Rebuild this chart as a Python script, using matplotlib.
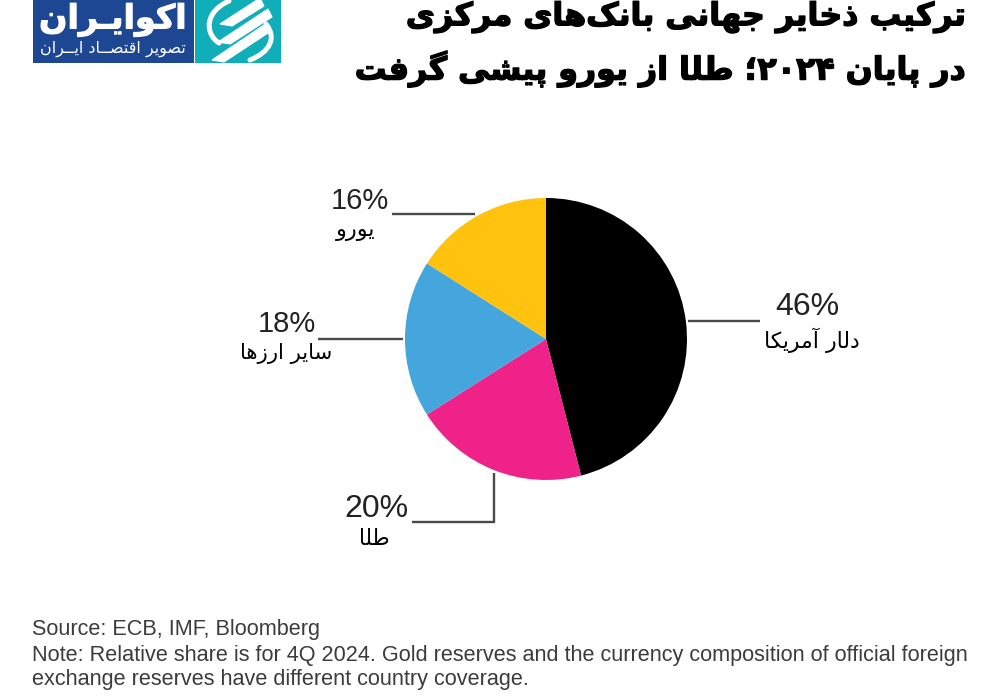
import unicodedata
import re
import numpy as np
import matplotlib
matplotlib.use("Agg")
import matplotlib.pyplot as plt
import matplotlib.patheffects as pe
from matplotlib.patches import Rectangle, Polygon, PathPatch
from matplotlib.path import Path

# ---- data ----
categories = ["دلار آمریکا", "طلا", "سایر ارزها", "یورو"]
shares = [46, 20, 18, 16]
share_labels = ["46%", "20%", "18%", "16%"]
slice_colors = ["#000000", "#EE2288", "#45A5DD", "#FFC20E"]
title_lines = ["ترکیب ذخایر جهانی بانک\u200cهای مرکزی", "در پایان ۲۰۲۴؛ طلا از یورو پیشی گرفت"]
source_lines = ["Source: ECB, IMF, Bloomberg",
                "Note: Relative share is for 4Q 2024. Gold reserves and the currency composition of official foreign",
                "exchange reserves have different country coverage."]
logo_name = "اکوایـران"
logo_tag = "تصویر اقتصــاد ایــران"

# ---- Persian shaping: matplotlib draws glyphs left to right without joining ----
_forms = {}
for cp in list(range(0xFB50, 0xFE00)) + list(range(0xFE70, 0xFEFF)):
    try:
        unicodedata.name(chr(cp))
    except ValueError:
        continue
    d = unicodedata.decomposition(chr(cp)).split()
    if len(d) != 2 or not d[0].startswith("<"):
        continue
    kind = d[0].strip("<>")
    if kind in ("isolated", "final", "initial", "medial"):
        _forms.setdefault(chr(int(d[1], 16)), {}).setdefault(kind, chr(cp))
_forms["ی"] = {"isolated": "\uFBFC", "final": "\uFBFD", "initial": "\uFBFE", "medial": "\uFBFF"}
_forms["ک"] = {"isolated": "\uFB8E", "final": "\uFB8F", "initial": "\uFB90", "medial": "\uFB91"}
_forms["ـ"] = {"isolated": "ـ", "final": "ـ", "initial": "ـ", "medial": "ـ"}


def fa(s):
    out = []
    chars = list(s)

    def joins_next(c):
        f = _forms.get(c, {})
        return "medial" in f or "initial" in f

    def joins_prev(c):
        f = _forms.get(c, {})
        return "final" in f or "medial" in f

    for i, c in enumerate(chars):
        if c not in _forms:
            if c != "\u200c":
                out.append(c)
            continue
        prev = chars[i - 1] if i else ""
        nxt = chars[i + 1] if i + 1 < len(chars) else ""
        p = prev in _forms and joins_next(prev) and joins_prev(c)
        n = nxt in _forms and joins_prev(nxt) and joins_next(c)
        kind = "medial" if p and n else "final" if p else "initial" if n else "isolated"
        out.append(_forms[c].get(kind, c))
    text = "".join(reversed(out))
    # digit runs read left to right
    return re.sub(r"[۰-۹]+", lambda m: m.group(0)[::-1], text)


W, H = 1000, 700
fig = plt.figure(figsize=(W / 100, H / 100), dpi=100, facecolor="white")
bg = fig.add_axes([0, 0, 1, 1])
bg.set_xlim(0, W)
bg.set_ylim(H, 0)
bg.axis("off")

AR = ["DejaVu Sans"]
heavy = [pe.withStroke(linewidth=1.0, foreground="black")]

# title
bg.text(966, 1, fa(title_lines[0]), ha="right", va="top", family=AR, fontweight="bold",
        fontsize=22.8, color="black", path_effects=heavy)
bg.text(966, 69, fa(title_lines[1]), ha="right", va="center", family=AR, fontweight="bold",
        fontsize=22.8, color="black", path_effects=heavy)

# logo
bg.add_patch(Rectangle((33, 0), 161, 63, color="#1E4793", lw=0))
bg.add_patch(Rectangle((195, 0), 86, 63, color="#10AEB9", lw=0))
for (x0, y0), (x1, y1) in [((220, 24), (262, 2)), ((218, 42), (270, 13)), ((212, 60), (266, 29))]:
    bg.add_patch(Polygon([(x0, y0), (x1 - 2, y1 - 4), (x1 + 2, y1 + 4), (x0 + 12, y0 + 2)],
                         closed=True, facecolor="white", edgecolor="white", lw=0.8))
arc_left = Path([(229, 1), (204, 12), (205, 34), (219, 43)], [Path.MOVETO, Path.CURVE4, Path.CURVE4, Path.CURVE4])
arc_right = Path([(266, 24), (277, 38), (270, 52), (250, 60)], [Path.MOVETO, Path.CURVE4, Path.CURVE4, Path.CURVE4])
for arc in (arc_left, arc_right):
    bg.add_patch(PathPatch(arc, facecolor="none", edgecolor="white", lw=3.6, capstyle="round"))
bg.text(113, 20, fa(logo_name), ha="center", va="center", family=AR, fontweight="bold",
        fontsize=24, color="white", path_effects=[pe.withStroke(linewidth=0.8, foreground="white")])
bg.text(113, 49, fa(logo_tag), ha="center", va="center", family=AR, fontsize=11.5, color="white")

# pie
cx, cy, r = 546, 339, 141
pie_ax = fig.add_axes([(cx - r) / W, 1 - (cy + r) / H, 2 * r / W, 2 * r / H])
pie_ax.pie(shares, colors=slice_colors, startangle=90, counterclock=False, radius=1,
           wedgeprops=dict(linewidth=0))
pie_ax.set_xlim(-1, 1)
pie_ax.set_ylim(-1, 1)

# leader lines
line_c = "#4a4a4a"
for xs, ys in [((688, 760), (321, 321)), ((494, 494, 412), (473, 522, 522)),
               ((318, 403), (339, 339)), ((392, 475), (214, 214))]:
    bg.plot(xs, ys, color=line_c, lw=1.7, solid_capstyle="butt", solid_joinstyle="miter")

# labels: share x, y, size, then category x, y, size
pos = [(807.5, 307, 23, 812, 340, 15.8), (376, 509, 23, 374, 539, 15.5),
       (287, 324, 21, 286, 354, 15.2), (360, 201, 21, 356, 231, 16)]
for (nx, ny, ns, cx2, cy2, cs), lab, cat in zip(pos, share_labels, categories):
    bg.text(nx, ny, lab, ha="center", va="center", family="Liberation Sans", fontsize=ns, color="#222222")
    bg.text(cx2, cy2, fa(cat), ha="center", va="center", family=AR, fontsize=cs, color="black")

# source
for y, s in zip((630, 656, 680), source_lines):
    bg.text(32, y, s, ha="left", va="center", family="Liberation Sans", fontsize=15.55, color="#3c3c3c")

fig.savefig("out.png", dpi=100, facecolor="white")
